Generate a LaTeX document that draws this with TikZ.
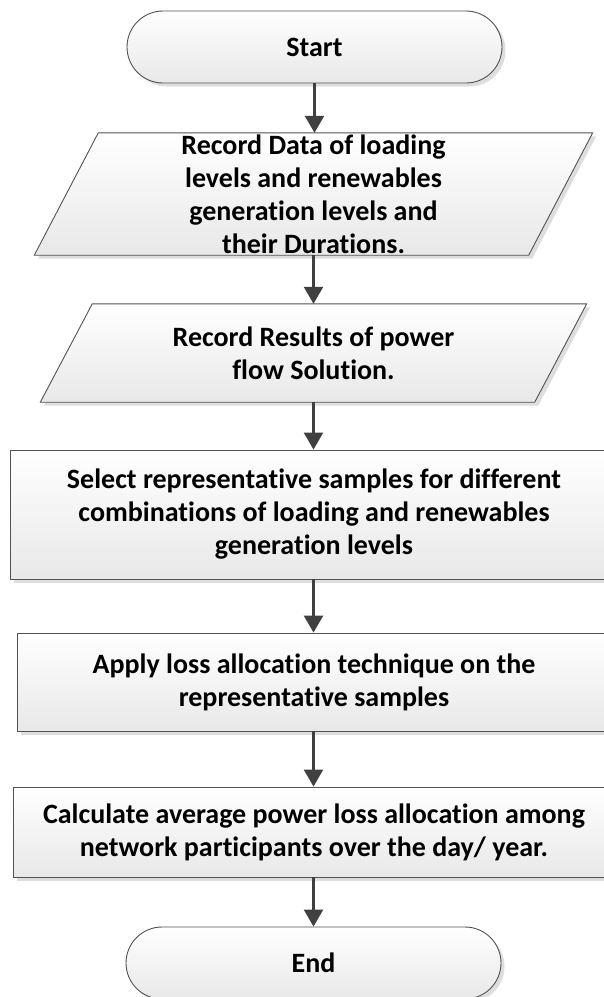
\documentclass[tikz,border=0pt]{standalone}
\usepackage{fontspec}
\setmainfont[Ligatures=NoCommon]{Carlito}
\usetikzlibrary{shadows,arrows.meta,backgrounds}
\begin{document}
\begin{tikzpicture}[x=1pt,y=-1pt,
  shapefill/.style={draw=black!68, line width=0.9pt, top color=white, bottom color=black!9,
    drop shadow={shadow xshift=3.5pt, shadow yshift=-3.5pt, fill=black, opacity=0.13}},
  lbl/.style={font=\bfseries\fontsize{28}{33}\selectfont, align=center, text=black, inner sep=0pt},
  termbox/.style={shapefill, lbl, rounded corners=36pt, minimum width=375pt, minimum height=72pt},
  procbox/.style={shapefill, lbl},
  flow/.style={draw=black!75, line width=2.5pt, -{Triangle[length=17pt,width=19pt]}}]
\useasboundingbox (0,0) rectangle (604,997);

\node[termbox] (start) at (314.5,47) {Start};
\node[lbl, minimum width=494pt, minimum height=122pt] (p1) at (313.5,194)
  {Record Data of loading\\levels and renewables\\generation levels and\\their Durations.};
\node[lbl, minimum width=494pt, minimum height=98pt] (p2) at (313.5,353)
  {Record Results of power\\flow Solution.};
\node[procbox, minimum width=608pt, minimum height=129pt] (r1) at (314,514.5)
  {Select representative samples for different\\combinations of loading and renewables\\generation levels};
\node[procbox, minimum width=594pt, minimum height=98pt] (r2) at (314,682)
  {Apply loss allocation technique on the\\representative samples};
\node[procbox, minimum width=602pt, minimum height=90pt] (r3) at (314,832)
  {Calculate average power loss allocation among\\network participants over the day/ year.};
\node[termbox] (end) at (313.5,963) {End};

\begin{pgfonlayer}{background}
\draw[shapefill] ([xshift=32pt]p1.north west) -- ([xshift=32pt]p1.north east)
  -- ([xshift=-32pt]p1.south east) -- ([xshift=-32pt]p1.south west) -- cycle;
\draw[shapefill] ([xshift=26pt]p2.north west) -- ([xshift=26pt]p2.north east)
  -- ([xshift=-26pt]p2.south east) -- ([xshift=-26pt]p2.south west) -- cycle;
\end{pgfonlayer}

\draw[flow] (start.south) -- (start.south |- p1.north);
\draw[flow] (p1.south) -- (p1.south |- p2.north);
\draw[flow] (p2.south) -- (p2.south |- r1.north);
\draw[flow] (p2.south |- r1.south) -- (p2.south |- r2.north);
\draw[flow] (p2.south |- r2.south) -- (p2.south |- r3.north);
\draw[flow] (p2.south |- r3.south) -- (p2.south |- end.north);
\end{tikzpicture}
\end{document}
